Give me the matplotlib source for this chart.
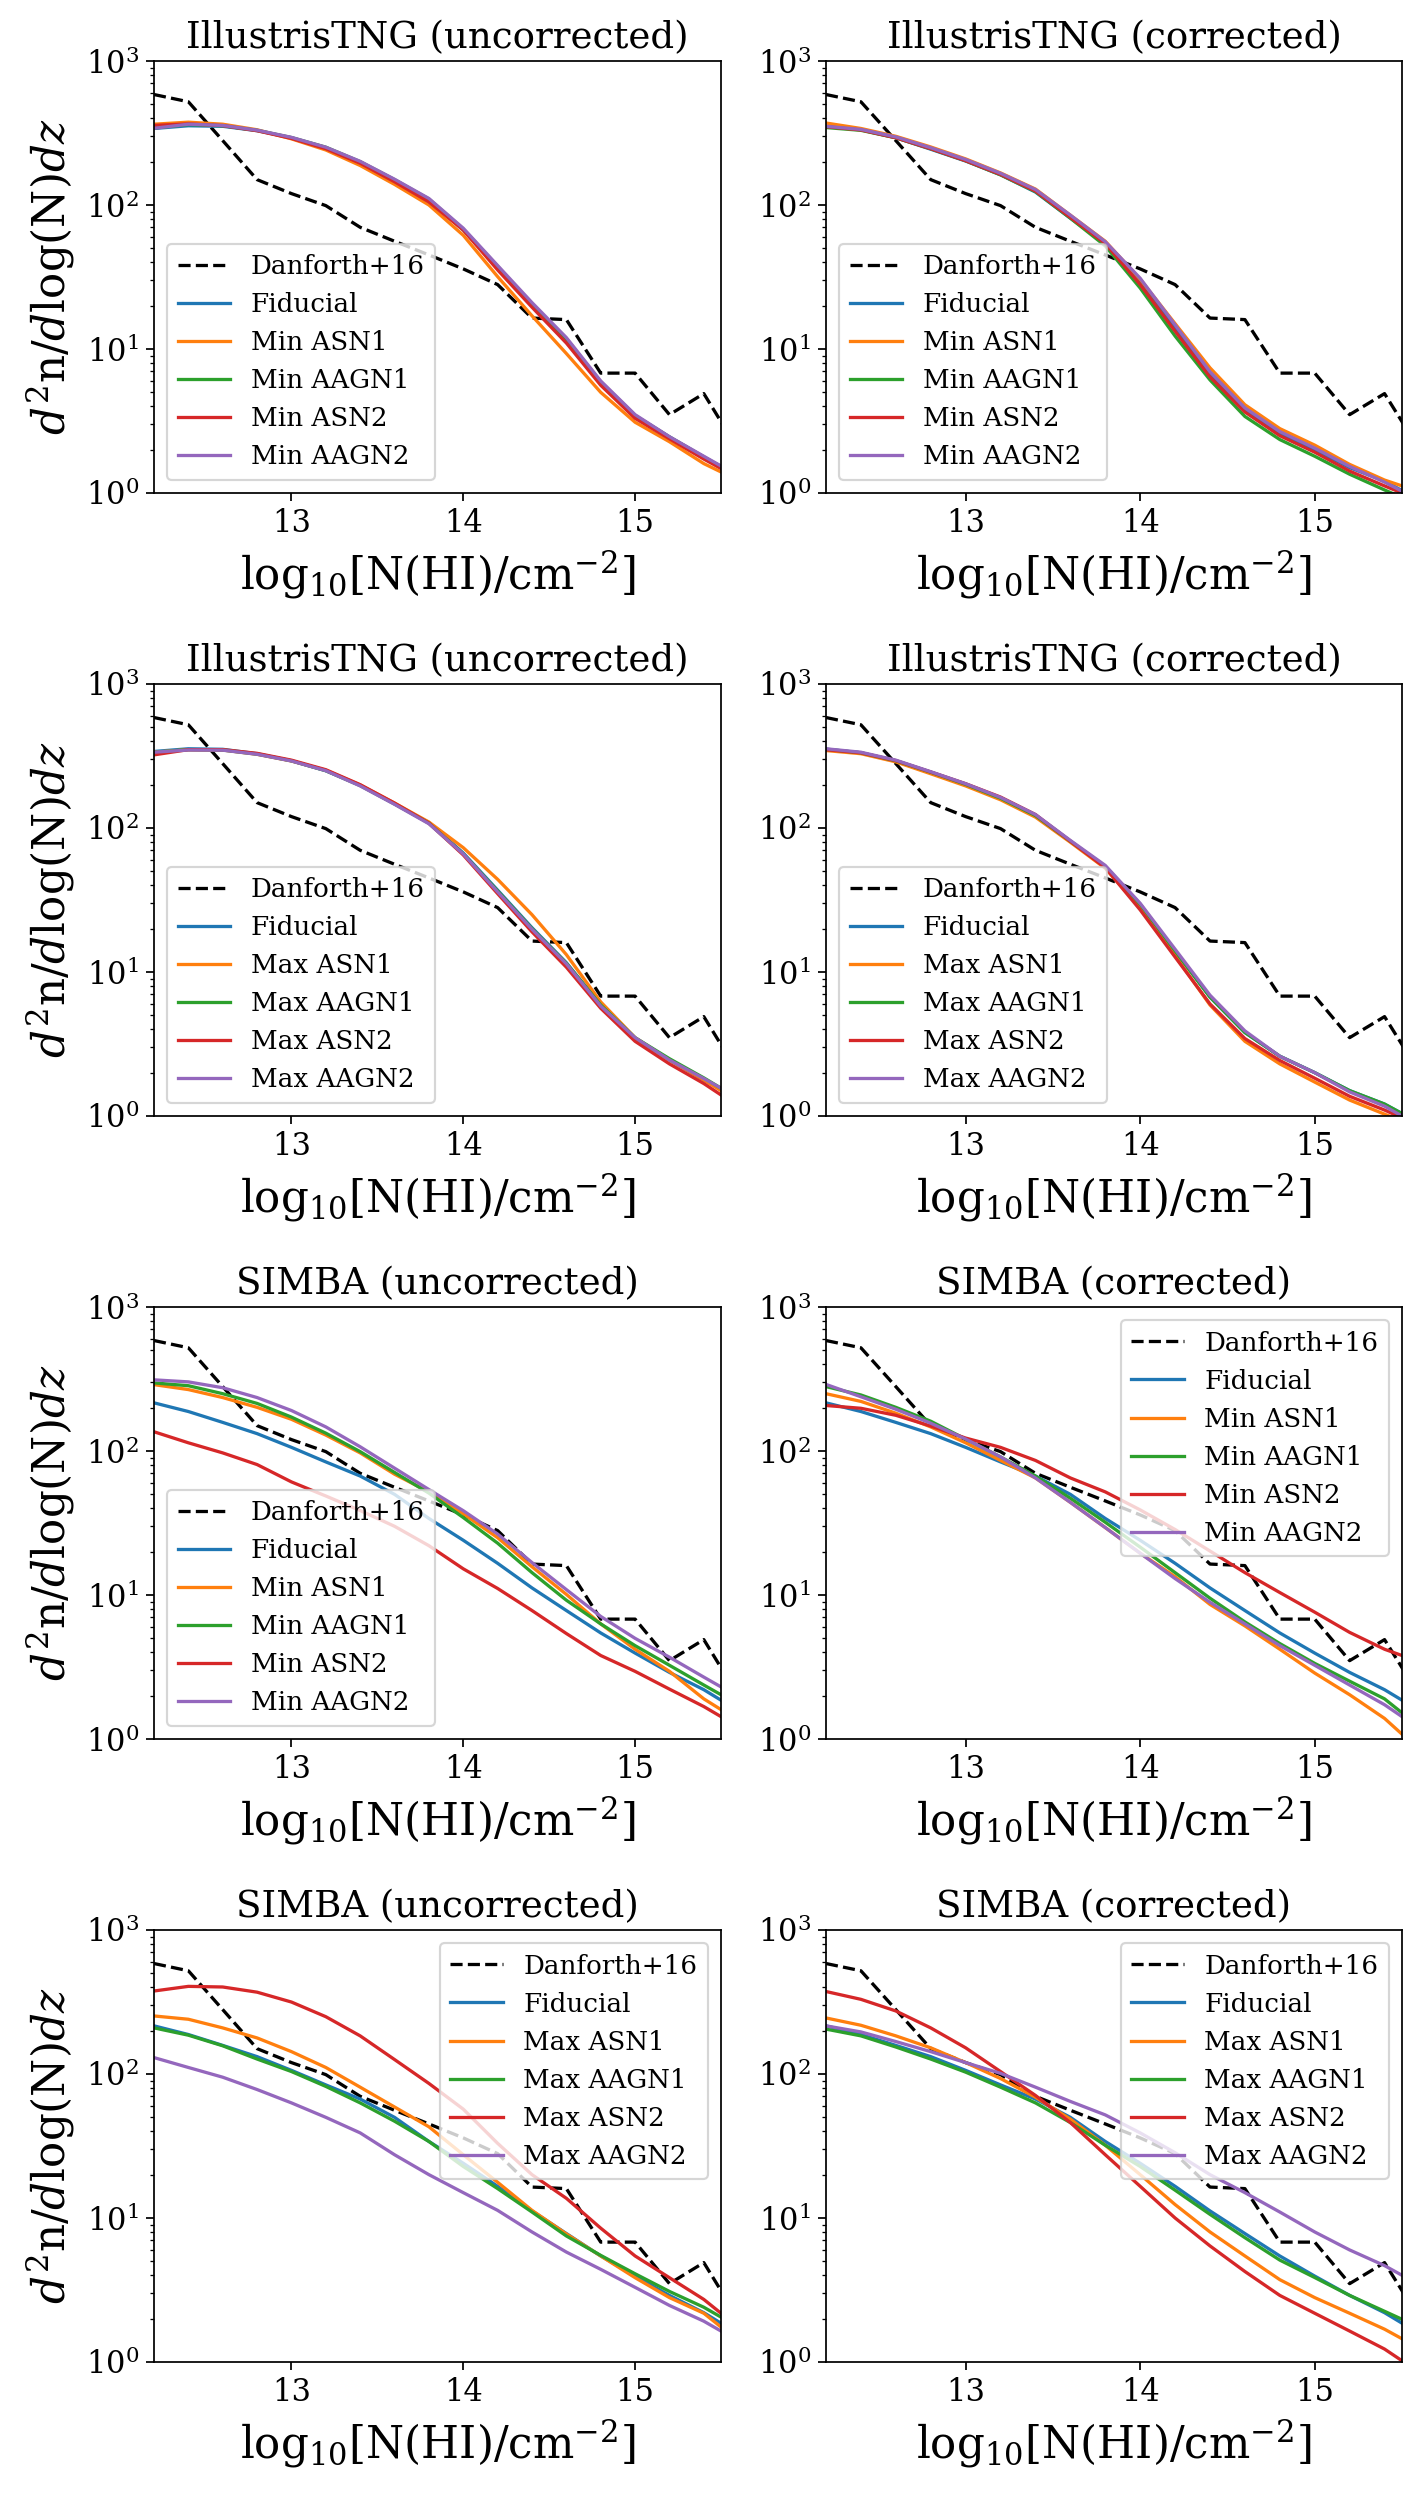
import numpy as np
import matplotlib
matplotlib.use("Agg")
import matplotlib.pyplot as plt

plt.rcParams['font.family'] = ['DejaVu Serif']
plt.rcParams['mathtext.fontset'] = 'dejavuserif'

# ---------------- data ----------------
N_grid = [12.2, 12.4, 12.6, 12.8, 13.0, 13.2, 13.4, 13.6, 13.8, 14.0,
          14.2, 14.4, 14.6, 14.8, 15.0, 15.2, 15.4, 15.5]

N_danforth = [12.2, 12.4, 12.6, 12.8, 13.0, 13.2, 13.4, 13.6, 13.8, 14.0,
              14.2, 14.4, 14.6, 14.8, 15.0, 15.2, 15.4, 15.6]
danforth = [585, 521, 280, 150, 120, 99, 70, 56, 45, 36,
            28, 16.4, 16.0, 6.8, 6.8, 3.5, 4.9, 2.0]

# IllustrisTNG uncorrected
tng_unc_fid = [340, 355, 352, 328, 293, 250, 198, 147, 109, 67, 37, 20.3, 11.6, 5.9, 3.45, 2.45, 1.78, 1.53]
tng_unc_min_asn1 = [364, 376, 364, 333, 288, 241, 188, 139, 100, 61.6, 31.8, 17, 9.3, 5.0, 3.1, 2.27, 1.6, 1.40]
tng_unc_min_aagn1 = [343, 362, 355, 330, 294, 252, 200, 150, 110, 68, 37.5, 20.5, 11.8, 5.9, 3.45, 2.45, 1.78, 1.52]
tng_unc_min_asn2 = [357, 366, 356, 328, 290, 246, 195, 145, 105, 67, 35.4, 19.5, 11, 5.6, 3.3, 2.38, 1.72, 1.48]
tng_unc_min_aagn2 = [341, 364, 357, 331, 295, 252, 201, 151, 111, 69, 38, 21, 12, 6.0, 3.5, 2.46, 1.8, 1.54]
tng_unc_max_asn1 = [336, 350, 348, 325, 292, 252, 199, 149, 110, 73, 44, 25, 13.2, 6.2, 3.5, 2.45, 1.78, 1.50]
tng_unc_max_aagn1 = [335, 350, 348, 326, 293, 250, 197, 147, 108, 66, 36.5, 20, 11.5, 5.9, 3.5, 2.5, 1.84, 1.56]
tng_unc_max_asn2 = [322, 350, 350, 330, 296, 254, 200, 149, 108, 65, 35, 19, 10.8, 5.6, 3.3, 2.3, 1.68, 1.40]
tng_unc_max_aagn2 = [336, 348, 347, 325, 292, 250, 196, 146, 107, 66, 36, 19.8, 11.4, 5.8, 3.5, 2.45, 1.82, 1.56]

# IllustrisTNG corrected
tng_cor_fid = [353, 333, 293, 244, 202, 162, 123, 81, 54, 29.5, 14, 6.7, 3.8, 2.6, 2.0, 1.5, 1.21, 1.04]
tng_cor_min_asn1 = [371, 340, 300, 253, 209, 167, 129, 85, 56, 30.5, 15, 7.4, 4.1, 2.8, 2.15, 1.58, 1.23, 1.12]
tng_cor_min_aagn1 = [345, 330, 293, 246, 203, 162, 124, 81, 52, 26.5, 12.3, 6.1, 3.4, 2.35, 1.8, 1.35, 1.05, 0.93]
tng_cor_min_asn2 = [350, 332, 293, 246, 203, 163, 125, 82, 54, 28, 13.3, 6.4, 3.65, 2.5, 1.92, 1.42, 1.12, 1.0]
tng_cor_min_aagn2 = [352, 335, 297, 250, 207, 166, 128, 85, 55.6, 31, 14.7, 6.95, 3.9, 2.67, 2.05, 1.53, 1.19, 1.03]
tng_cor_max_asn1 = [345, 328, 288, 238, 196, 157, 119, 79.6, 52.5, 28, 13, 5.9, 3.3, 2.3, 1.72, 1.29, 1.03, 0.92]
tng_cor_max_aagn1 = [352, 333, 293, 244, 201, 161, 122, 81, 54, 29.5, 14, 6.7, 3.8, 2.6, 2.0, 1.5, 1.21, 1.04]
tng_cor_max_asn2 = [350, 333, 294, 245, 203, 164, 124, 81, 53, 27, 12.7, 6.0, 3.45, 2.43, 1.83, 1.37, 1.1, 0.97]
tng_cor_max_aagn2 = [355, 336, 296, 246, 203, 163, 124, 82, 55, 30, 14.4, 6.9, 3.9, 2.6, 2.0, 1.47, 1.17, 1.0]

# SIMBA
simba_fid = [216, 188, 158, 132, 106, 84, 67, 50, 34, 24, 16.6, 11.2, 7.8, 5.45, 3.95, 2.9, 2.2, 1.86]
simba_unc_min_asn1 = [289, 267, 235, 201, 166, 129, 97, 69, 52, 36.6, 25, 15.7, 10.1, 6.3, 4.2, 2.95, 1.9, 1.6]
simba_unc_min_aagn1 = [297, 284, 250, 214, 172, 133, 99, 71, 51, 34.5, 22.9, 14.3, 9.2, 6.3, 4.45, 3.25, 2.37, 2.03]
simba_unc_min_asn2 = [136, 114, 97, 80.5, 61, 48.7, 38.6, 30, 22, 15.2, 11.1, 7.8, 5.4, 3.8, 2.95, 2.22, 1.68, 1.43]
simba_unc_min_aagn2 = [312, 302, 275, 235, 191, 147, 107, 76, 54, 38.5, 26.5, 16.8, 10.9, 7.1, 5.0, 3.7, 2.69, 2.3]
simba_cor_min_asn1 = [250, 221, 183, 147, 114, 86, 65, 44, 29.4, 19.5, 13.4, 8.6, 6.1, 4.2, 2.87, 2.03, 1.39, 1.08]
simba_cor_min_aagn1 = [280, 245, 201, 161, 121, 91, 67, 47, 32, 21.5, 14.3, 9.5, 6.5, 4.6, 3.35, 2.52, 1.9, 1.52]
simba_cor_min_asn2 = [207, 198, 177, 149, 123, 106, 86, 65, 52, 39, 28.5, 20.2, 14.3, 10.4, 7.6, 5.5, 4.2, 3.8]
simba_cor_min_aagn2 = [290, 238, 195, 156, 121, 91, 65, 44, 29.4, 19.5, 13, 8.9, 6.3, 4.45, 3.25, 2.37, 1.73, 1.43]
simba_unc_max_asn1 = [253, 240, 209, 178, 143, 111, 81, 59, 43, 27.5, 17.7, 11.3, 7.75, 5.45, 3.85, 2.8, 2.18, 1.75]
simba_unc_max_aagn1 = [209, 186, 157, 127, 104, 82, 63, 47, 34, 22.8, 16, 11, 7.5, 5.5, 4.1, 3.09, 2.4, 2.05]
simba_unc_max_asn2 = [377, 406, 402, 370, 316, 250, 184, 126, 86, 57, 33, 20, 13.7, 8.5, 5.45, 3.85, 2.72, 2.18]
simba_unc_max_aagn2 = [130, 111, 95, 78, 63, 50, 39, 27.5, 20, 15, 11.3, 8.0, 5.8, 4.4, 3.3, 2.47, 1.92, 1.64]
simba_cor_max_asn1 = [245, 218, 184, 152, 120, 93, 69, 48.6, 32, 20, 12.4, 8.0, 5.45, 3.73, 2.8, 2.18, 1.69, 1.45]
simba_cor_max_aagn1 = [205, 184, 154, 127, 103, 81, 63, 46, 32, 22.8, 15.6, 10.6, 7.3, 5.1, 3.86, 2.9, 2.25, 1.98]
simba_cor_max_asn2 = [374, 330, 274, 209, 152, 104, 71, 46, 27.5, 16.6, 10, 6.4, 4.25, 2.9, 2.18, 1.64, 1.23, 1.02]
simba_cor_max_aagn2 = [216, 196, 168, 143, 120, 101, 81, 64.5, 52, 39, 28.4, 20, 15, 11, 8.0, 6.0, 4.67, 4.0]

titles = ["IllustrisTNG (uncorrected)", "IllustrisTNG (corrected)",
          "IllustrisTNG (uncorrected)", "IllustrisTNG (corrected)",
          "SIMBA (uncorrected)", "SIMBA (corrected)",
          "SIMBA (uncorrected)", "SIMBA (corrected)"]
min_labels = ["Fiducial", "Min ASN1", "Min AAGN1", "Min ASN2", "Min AAGN2"]
max_labels = ["Fiducial", "Max ASN1", "Max AAGN1", "Max ASN2", "Max AAGN2"]

panels = [
    (min_labels, [tng_unc_fid, tng_unc_min_asn1, tng_unc_min_aagn1, tng_unc_min_asn2, tng_unc_min_aagn2]),
    (min_labels, [tng_cor_fid, tng_cor_min_asn1, tng_cor_min_aagn1, tng_cor_min_asn2, tng_cor_min_aagn2]),
    (max_labels, [tng_unc_fid, tng_unc_max_asn1, tng_unc_max_aagn1, tng_unc_max_asn2, tng_unc_max_aagn2]),
    (max_labels, [tng_cor_fid, tng_cor_max_asn1, tng_cor_max_aagn1, tng_cor_max_asn2, tng_cor_max_aagn2]),
    (min_labels, [simba_fid, simba_unc_min_asn1, simba_unc_min_aagn1, simba_unc_min_asn2, simba_unc_min_aagn2]),
    (min_labels, [simba_fid, simba_cor_min_asn1, simba_cor_min_aagn1, simba_cor_min_asn2, simba_cor_min_aagn2]),
    (max_labels, [simba_fid, simba_unc_max_asn1, simba_unc_max_aagn1, simba_unc_max_asn2, simba_unc_max_aagn2]),
    (max_labels, [simba_fid, simba_cor_max_asn1, simba_cor_max_aagn1, simba_cor_max_asn2, simba_cor_max_aagn2]),
]
legend_locs = ["lower left", "lower left", "lower left", "lower left",
               "lower left", "upper right", "upper right", "upper right"]

colors = ["C0", "C1", "C2", "C3", "C4"]

# ---------------- figure ----------------
DPI = 157
W, H = 1410, 2493
fig = plt.figure(figsize=(W / DPI, H / DPI), dpi=DPI)

col_lr = [(154, 721), (826, 1402)]
row_tb = [(61, 493), (684, 1116), (1307, 1739), (1930, 2362)]

for i, (labels, series) in enumerate(panels):
    r, c = divmod(i, 2)
    l, rt = col_lr[c]
    t, b = row_tb[r]
    ax = fig.add_axes([l / W, 1 - b / H, (rt - l) / W, (b - t) / H])
    ax.plot(N_danforth, danforth, 'k--', lw=1.5, label="Danforth+16")
    for lab, ser, col in zip(labels, series, colors):
        ax.plot(N_grid, ser, color=col, lw=1.5, label=lab)
    ax.set_yscale('log')
    ax.set_xlim(12.2, 15.5)
    ax.set_ylim(1, 1000)
    ax.set_xticks([13, 14, 15])
    ax.tick_params(axis='both', which='major', labelsize=14)
    ax.set_title(titles[i], fontsize=17)
    ax.set_xlabel(r'$\mathrm{log}_{10}$[N(HI)/cm$^{-2}$]', fontsize=20)
    if c == 0:
        ax.set_ylabel(r'$d^2$n/$d$log(N)$dz$', fontsize=20)
    ax.legend(loc=legend_locs[i], fontsize=12)

fig.savefig("out.png", dpi=DPI)
